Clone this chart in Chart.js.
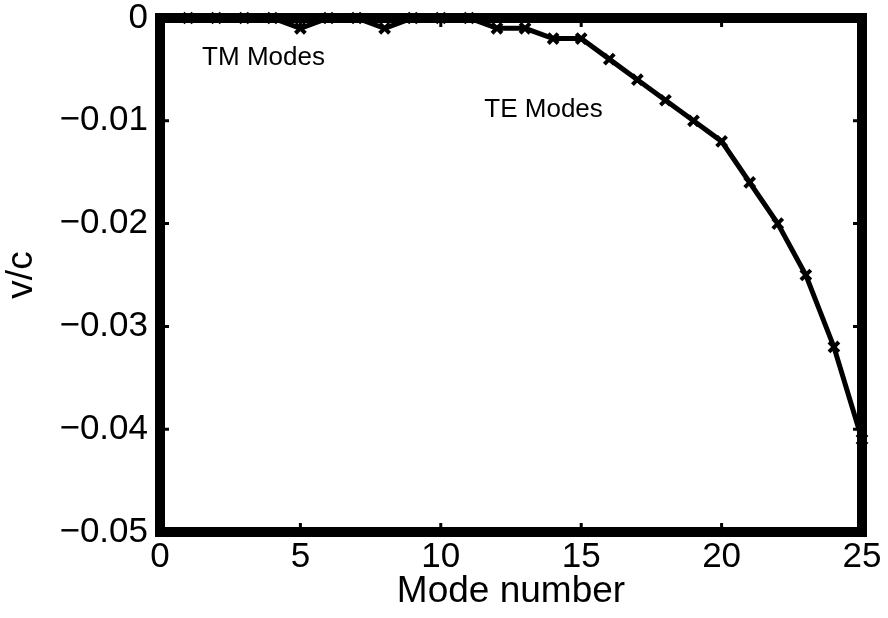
<!DOCTYPE html>
<html>
<head>
<meta charset="utf-8">
<script src="https://cdn.jsdelivr.net/npm/chart.js@4"></script>
<style>
  body { margin: 0; background: #fff; }
  canvas { display: block; }
</style>
</head>
<body>
<canvas id="chart" width="888" height="618"></canvas>
<script>
// Datos
const modeNumbers = [1, 2, 3, 4, 5, 6, 7, 8, 9, 10, 11, 12, 13, 14, 15, 16, 17, 18, 19, 20, 21, 22, 23, 24, 25];
const velocity = [0, 0, 0, 0, -0.001, 0, 0, -0.001, 0, 0, 0, -0.001, -0.001, -0.002, -0.002,
  -0.004, -0.006, -0.008, -0.010, -0.012, -0.016, -0.020, -0.025, -0.032, -0.041];
const xTicks = [0, 5, 10, 15, 20, 25];
const yTicks = [-0.05, -0.04, -0.03, -0.02, -0.01, 0];
const yTickLabels = ['\u22120.05', '\u22120.04', '\u22120.03', '\u22120.02', '\u22120.01', '0'];
const notes = [
  { text: 'TM Modes', x: 1.5, y: -0.0046 },
  { text: 'TE Modes', x: 11.55, y: -0.0096 }
];

const FONT = "'Liberation Sans', Arial, sans-serif";

// Marco grueso con marcas hacia dentro (estilo MATLAB)
const framePlugin = {
  id: 'frame',
  beforeDatasetsDraw(chart) {
    const { ctx, chartArea: a, scales } = chart;
    ctx.save();
    ctx.strokeStyle = '#000';
    ctx.lineWidth = 3;
    ctx.beginPath();
    xTicks.forEach(v => {
      const px = scales.x.getPixelForValue(v);
      ctx.moveTo(px, a.bottom); ctx.lineTo(px, a.bottom - 9);
      ctx.moveTo(px, a.top); ctx.lineTo(px, a.top + 9);
    });
    yTicks.forEach(v => {
      const py = scales.y.getPixelForValue(v);
      ctx.moveTo(a.left, py); ctx.lineTo(a.left + 9, py);
      ctx.moveTo(a.right, py); ctx.lineTo(a.right - 9, py);
    });
    ctx.stroke();
    ctx.lineWidth = 10;
    ctx.strokeRect(a.left, a.top, a.right - a.left, a.bottom - a.top);
    ctx.restore();
  },
  afterDatasetsDraw(chart) {
    const { ctx, scales } = chart;
    ctx.save();
    ctx.fillStyle = '#000';
    ctx.font = '26px ' + FONT;
    ctx.textBaseline = 'alphabetic';
    notes.forEach(n => {
      ctx.fillText(n.text, scales.x.getPixelForValue(n.x), scales.y.getPixelForValue(n.y));
    });
    ctx.restore();
  }
};

new Chart(document.getElementById('chart').getContext('2d'), {
  type: 'line',
  data: {
    labels: modeNumbers,
    datasets: [{
      data: modeNumbers.map((m, i) => ({ x: m, y: velocity[i] })),
      borderColor: '#000',
      backgroundColor: '#000',
      borderWidth: 5,
      pointStyle: 'crossRot',
      pointRadius: 7,
      pointBorderWidth: 4,
      tension: 0,
      clip: false
    }]
  },
  options: {
    responsive: false,
    animation: false,
    events: [],
    layout: { autoPadding: false, padding: { left: 0, top: 18, right: 26, bottom: 0 } },
    plugins: { legend: { display: false }, tooltip: { enabled: false } },
    scales: {
      x: {
        type: 'linear',
        min: 0,
        max: 25,
        afterBuildTicks: s => { s.ticks = xTicks.map(v => ({ value: v })); },
        afterFit: s => { s.height = 86; s.paddingLeft = 0; s.paddingRight = 0; },
        grid: { display: false, drawTicks: false },
        border: { display: false },
        ticks: { color: '#000', font: { family: FONT, size: 35 }, padding: 4, maxRotation: 0 },
        title: { display: true, text: 'Mode number', color: '#000', font: { family: FONT, size: 37 }, padding: 4 }
      },
      y: {
        type: 'linear',
        min: -0.05,
        max: 0,
        afterBuildTicks: s => { s.ticks = yTicks.map(v => ({ value: v })); },
        afterFit: s => { s.width = 160; s.paddingTop = 0; s.paddingBottom = 0; },
        grid: { display: false, drawTicks: false },
        border: { display: false },
        ticks: {
          color: '#000',
          font: { family: FONT, size: 35 },
          padding: 12,
          callback: (v, i) => yTickLabels[i]
        },
        title: { display: true, text: 'v/c', color: '#000', font: { family: FONT, size: 37 }, padding: 0 }
      }
    }
  },
  plugins: [framePlugin]
});
</script>
</body>
</html>
